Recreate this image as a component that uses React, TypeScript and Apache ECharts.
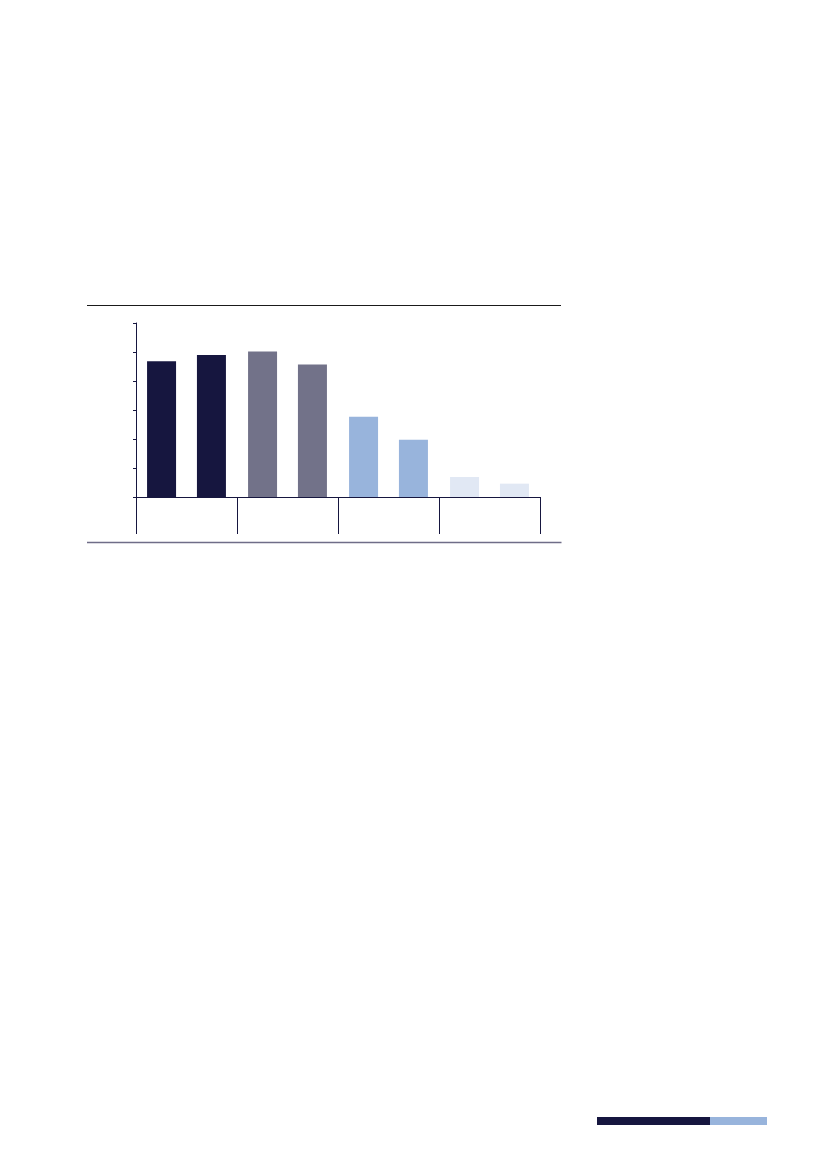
import { useEffect, useRef } from 'react';
import * as echarts from 'echarts';

// four groups, two bars each (no labels shown in the figure)
const categories = ['1', '2', '3', '4'];
const firstBar = [4.68, 5.02, 2.77, 0.69];
const secondBar = [4.9, 4.57, 1.97, 0.46];
const groupColors = ['#16163f', '#727289', '#98b4dc', '#e1e8f4'];
const yTicks = { min: 0, max: 6, interval: 1 };

const W = 827;
const H = 1169;

export default function App() {
  const chartRef = useRef<HTMLDivElement>(null);

  useEffect(() => {
    if (!chartRef.current) return;
    const chart = echarts.init(chartRef.current, undefined, { renderer: 'svg' });

    const barData = (vals: number[]) =>
      vals.map((v, i) => ({ value: v, itemStyle: { color: groupColors[i] } }));

    chart.setOption({
      animation: false,
      grid: { left: 136, top: 323, right: W - 540, bottom: H - 497 },
      xAxis: {
        type: 'category',
        data: categories,
        axisLine: { lineStyle: { color: '#16163f', width: 1 } },
        axisTick: { show: true, length: 37, lineStyle: { color: '#16163f', width: 1 } },
        axisLabel: { show: false },
        splitLine: { show: false },
      },
      yAxis: {
        type: 'value',
        ...yTicks,
        axisLine: { show: true, lineStyle: { color: '#16163f', width: 1 } },
        axisTick: { show: true, length: 3, lineStyle: { color: '#16163f' } },
        axisLabel: { show: false },
        splitLine: { show: false },
      },
      series: [
        { type: 'bar', data: barData(firstBar), barWidth: 29, barGap: '72%' },
        { type: 'bar', data: barData(secondBar), barWidth: 29, barGap: '72%' },
      ],
      graphic: [
        {
          type: 'line',
          shape: { x1: 87, y1: 305.5, x2: 561, y2: 305.5 },
          style: { stroke: '#1a1a1a', lineWidth: 1 },
        },
        {
          type: 'line',
          shape: { x1: 87, y1: 542.5, x2: 561.5, y2: 542.5 },
          style: { stroke: '#6f6d88', lineWidth: 1.5 },
        },
        {
          type: 'rect',
          shape: { x: 597, y: 1117, width: 113, height: 8 },
          style: { fill: '#16163f' },
        },
        {
          type: 'rect',
          shape: { x: 710, y: 1117, width: 57, height: 8 },
          style: { fill: '#98b4dc' },
        },
      ],
    });

    return () => {
      chart.dispose();
    };
  }, []);

  return (
    <div
      ref={chartRef}
      style={{ position: 'fixed', left: 0, top: 0, width: W, height: H, background: '#fff' }}
    />
  );
}
